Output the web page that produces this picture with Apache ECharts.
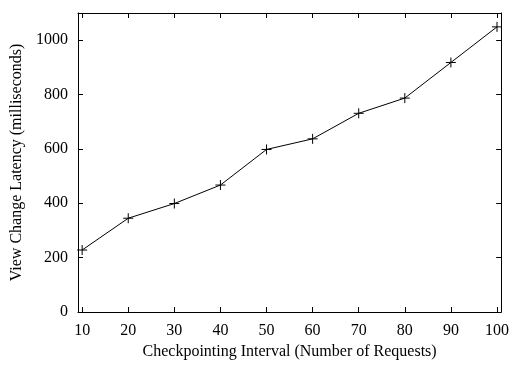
<!DOCTYPE html>
<html>
<head>
<meta charset="utf-8">
<script src="https://cdn.jsdelivr.net/npm/echarts@6/dist/echarts.min.js"></script>
<style>
  html, body { margin: 0; padding: 0; background: #fff; }
  #chart { width: 512px; height: 365px; }
</style>
</head>
<body>
<div id="chart"></div>
<script>
// checkpointing interval (x) and view change latency in ms (y)
var intervals = [10, 20, 30, 40, 50, 60, 70, 80, 90, 100];
var latency = [228, 345, 399, 467, 598, 637, 731, 787, 918, 1049];
var xTicks = [10, 20, 30, 40, 50, 60, 70, 80, 90, 100];
var yTicks = [0, 200, 400, 600, 800, 1000];

var font = 'Liberation Serif';

var points = [];
for (var i = 0; i < intervals.length; i++) {
    points.push([intervals[i], latency[i]]);
}

// gnuplot style: ticks inside, mirrored on the opposite side
var makeX = function(pos, showLabel) {
    return {
        type: 'value',
        position: pos,
        min: 9.1,
        max: 100.9,
        splitLine: { show: false },
        axisLine: { show: true, onZero: false, lineStyle: { color: '#000', width: 1 } },
        axisTick: { show: true, inside: true, length: 5, customValues: xTicks, lineStyle: { color: '#000' } },
        axisLabel: {
            show: showLabel, customValues: xTicks, color: '#000',
            fontFamily: font, fontSize: 16, margin: 11,
            formatter: function(v) { return String(v); }
        }
    };
};

var makeY = function(pos, showLabel) {
    return {
        type: 'value',
        position: pos,
        min: 0,
        max: 1100,
        splitLine: { show: false },
        axisLine: { show: true, onZero: false, lineStyle: { color: '#000', width: 1 } },
        axisTick: { show: true, inside: true, length: 5, customValues: yTicks, lineStyle: { color: '#000' } },
        axisLabel: {
            show: showLabel, customValues: yTicks, color: '#000',
            fontFamily: font, fontSize: 16, margin: 10,
            formatter: function(v) { return String(v); }
        }
    };
};

var chart = echarts.init(document.getElementById('chart'));

var xBottom = makeX('bottom', true);
xBottom.name = 'Checkpointing Interval (Number of Requests)';
xBottom.nameLocation = 'middle';
xBottom.nameGap = 32;
xBottom.nameTextStyle = { color: '#000', fontFamily: font, fontSize: 16 };

var yLeft = makeY('left', true);
yLeft.name = 'View Change Latency (milliseconds)';
yLeft.nameLocation = 'middle';
yLeft.nameGap = 50;
yLeft.nameTextStyle = { color: '#000', fontFamily: font, fontSize: 16 };

var option = {
    animation: false,
    backgroundColor: '#fff',
    grid: { left: 78, right: 10, top: 13, bottom: 52 },
    xAxis: [xBottom, makeX('top', false)],
    yAxis: [yLeft, makeY('right', false)],
    series: [{
        type: 'line',
        data: points,
        xAxisIndex: 0,
        yAxisIndex: 0,
        symbol: 'path://M0,5L10,5M5,0L5,10',
        symbolSize: 10,
        showSymbol: true,
        lineStyle: { color: '#000', width: 1 },
        itemStyle: { color: 'rgba(0,0,0,0)', borderColor: '#000', borderWidth: 1 }
    }]
};

chart.setOption(option);
</script>
</body>
</html>
